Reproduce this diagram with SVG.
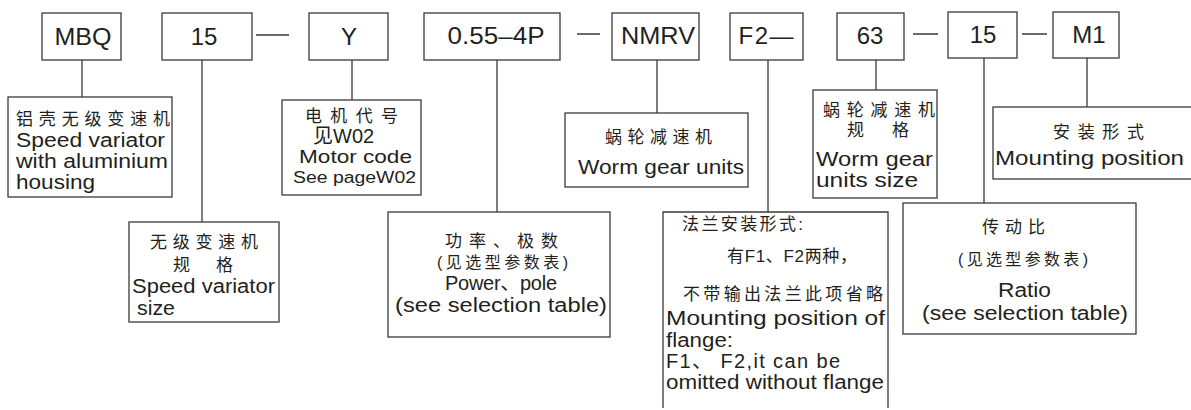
<svg xmlns="http://www.w3.org/2000/svg" width="1191" height="410" viewBox="0 0 1191 410">
<style>
.b{fill:#fff;stroke:#3a3a3a;stroke-width:1.3}
.c{fill:none;stroke:#3a3a3a;stroke-width:1.3}
text{font-family:"Liberation Sans","Noto Sans CJK SC",sans-serif;fill:#231f20}
.top{font-size:24px;text-anchor:middle}
.en{font-size:20px}
.e2{font-size:19px}
.cn{font-size:17px}
.sm{font-size:16px}
</style>
<rect width="1191" height="410" fill="#fff"/>
<g id="connectors">
<path class="c" d="M82,60V97M202,60V222M352,60V100M497,60V212M657,60V113M768,60V212M876,60V90M984,58V203M1087,58V107"/>
<path class="c" d="M256,35H289M577,34H600M913,34H938M1022,34H1047"/>
</g>
<g id="n-mbq"><rect class="b" x="42" y="13" width="79" height="47"/><text class="top" x="83" y="45" textLength="57" lengthAdjust="spacingAndGlyphs">MBQ</text></g>
<g id="n-15a"><rect class="b" x="162" y="13" width="90" height="47"/><text class="top" x="204" y="45">15</text></g>
<g id="n-y"><rect class="b" x="309" y="13" width="79" height="47"/><text class="top" x="349" y="45">Y</text></g>
<g id="n-power"><rect class="b" x="424" y="13" width="136" height="47"/><text class="top" x="496" y="44" textLength="97" lengthAdjust="spacingAndGlyphs">0.55–4P</text></g>
<g id="n-nmrv"><rect class="b" x="612" y="13" width="87" height="47"/><text class="top" x="658" y="44" textLength="74" lengthAdjust="spacingAndGlyphs">NMRV</text></g>
<g id="n-f2"><rect class="b" x="730" y="13" width="73" height="47"/><text class="top" x="766" y="44" textLength="55">F2—</text></g>
<g id="n-63"><rect class="b" x="837" y="13" width="67" height="47"/><text class="top" x="870" y="44">63</text></g>
<g id="n-15b"><rect class="b" x="948" y="12" width="69" height="46"/><text class="top" x="983" y="43">15</text></g>
<g id="n-m1"><rect class="b" x="1053" y="12" width="66" height="46"/><text class="top" x="1089" y="43">M1</text></g>

<g id="d-mbq"><rect class="b" x="8" y="97" width="164" height="100"/>
<text class="cn" x="16" y="125" textLength="154">铝壳无级变速机</text>
<text class="en" x="16" y="147" textLength="149" lengthAdjust="spacingAndGlyphs">Speed variator</text>
<text class="en" x="16" y="168" textLength="152" lengthAdjust="spacingAndGlyphs">with aluminium</text>
<text class="en" x="16" y="189" textLength="79" lengthAdjust="spacingAndGlyphs">housing</text></g>

<g id="d-15a"><rect class="b" x="129" y="222" width="150" height="100"/>
<text class="cn" x="150" y="248" textLength="108">无级变速机</text>
<text class="cn" x="173" y="271" textLength="60">规 格</text>
<text class="en" x="132" y="293" textLength="143" lengthAdjust="spacingAndGlyphs">Speed variator</text>
<text class="en" x="137" y="315" textLength="38" lengthAdjust="spacingAndGlyphs">size</text></g>

<g id="d-y"><rect class="b" x="282" y="100" width="139" height="95"/>
<text class="cn" x="305" y="122" textLength="93">电机代号</text>
<text x="313" y="143" style="font-size:20px">见W02</text>
<text class="e2" x="299" y="163" textLength="113" lengthAdjust="spacingAndGlyphs">Motor code</text>
<text class="sm" x="293" y="183" textLength="123" lengthAdjust="spacingAndGlyphs">See pageW02</text></g>

<g id="d-nmrv"><rect class="b" x="565" y="113" width="183" height="74"/>
<text class="cn" x="605" y="143" textLength="107">蜗轮减速机</text>
<text class="en" x="578" y="174" textLength="166" lengthAdjust="spacingAndGlyphs">Worm gear units</text></g>

<g id="d-63"><rect class="b" x="813" y="90" width="124" height="108"/>
<text class="cn" x="823" y="116" textLength="112">蜗轮减速机</text>
<text class="cn" x="847" y="136" textLength="62">规 格</text>
<text class="en" x="816" y="166" textLength="117" lengthAdjust="spacingAndGlyphs">Worm gear</text>
<text class="en" x="816" y="187" textLength="102" lengthAdjust="spacingAndGlyphs">units size</text></g>

<g id="d-m1"><rect class="b" x="993" y="107" width="210" height="72"/>
<text class="cn" x="1053" y="138" textLength="91">安装形式</text>
<text class="en" x="995" y="165" textLength="189" lengthAdjust="spacingAndGlyphs">Mounting position</text></g>

<g id="d-power"><rect class="b" x="388" y="212" width="222" height="125"/>
<text class="cn" x="445" y="247" textLength="113">功率、极数</text>
<text class="sm" x="437" y="268" textLength="131">(见选型参数表)</text>
<text class="en" x="445" y="290" textLength="112">Power、pole</text>
<text class="en" x="395" y="312" textLength="212" lengthAdjust="spacingAndGlyphs">(see selection table)</text></g>

<g id="d-f2"><path class="b" d="M663,408V212H888V408"/>
<text class="cn" x="682" y="230" textLength="121">法兰安装形式:</text>
<text class="cn" x="727" y="262" textLength="130">有F1、F2两种，</text>
<text class="cn" x="683" y="300" textLength="200">不带输出法兰此项省略</text>
<text class="en" x="666" y="325" textLength="219" lengthAdjust="spacingAndGlyphs">Mounting position of</text>
<text class="en" x="666" y="347" textLength="67" lengthAdjust="spacingAndGlyphs">flange:</text>
<text class="en" x="666" y="368" textLength="174">F1、 F2,it can be</text>
<text class="en" x="666" y="389" textLength="218" lengthAdjust="spacingAndGlyphs">omitted without flange</text></g>

<g id="d-ratio"><rect class="b" x="903" y="203" width="233" height="131"/>
<text class="cn" x="982" y="233" textLength="63">传动比</text>
<text class="sm" x="958" y="265" textLength="130">(见选型参数表)</text>
<text class="en" x="998" y="297" textLength="53" lengthAdjust="spacingAndGlyphs">Ratio</text>
<text class="en" x="922" y="320" textLength="206" lengthAdjust="spacingAndGlyphs">(see selection table)</text></g>
</svg>
